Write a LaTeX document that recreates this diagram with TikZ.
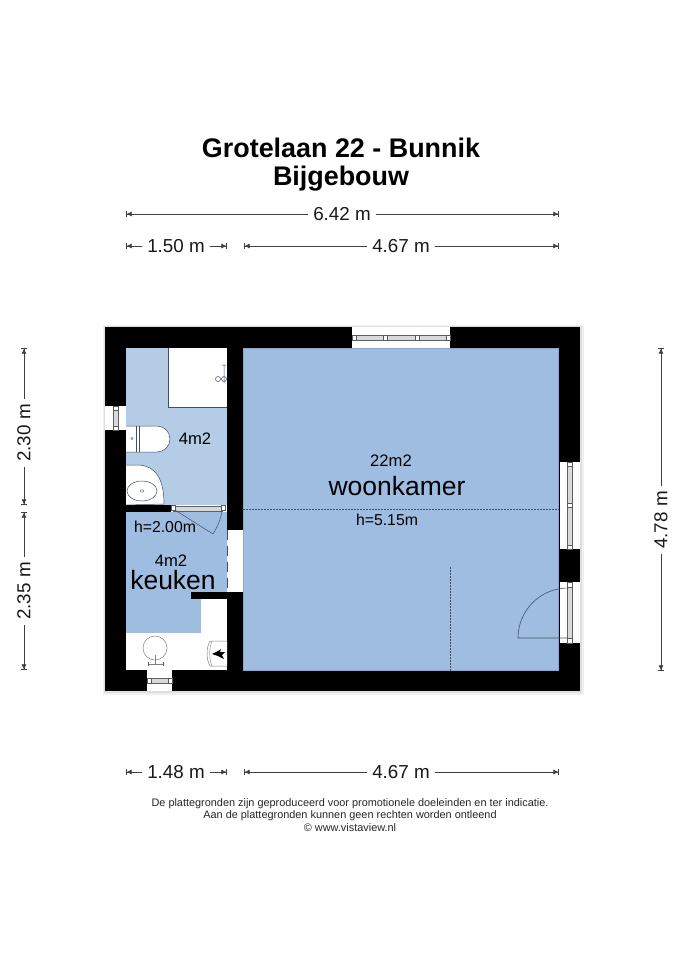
\documentclass[tikz,border=0pt]{standalone}
\usepackage{fontspec}
\setmainfont{Liberation Sans}
\usetikzlibrary{positioning}
\usetikzlibrary{arrows.meta}
\definecolor{wallcol}{HTML}{000000}
\definecolor{bathcol}{HTML}{B4CCE6}
\definecolor{roomcol}{HTML}{9FBDE0}
\definecolor{roomedge}{HTML}{8AA6C8}
\definecolor{planline}{HTML}{3F4F66}
\tikzset{>=latex}
\tikzset{
  dimline/.style={-{Latex[length=5pt,width=5pt]Bar[width=6pt,line width=0.6pt]},black!75,line width=0.6pt,shorten <=0pt},
  dimlabel/.style={font=\fontsize{18.8}{18.8}\selectfont,inner xsep=5pt,inner ysep=0pt,text=black!90},
  dimside/.style={dimlabel,rotate=90},
  roomlabel/.style={text=black,inner sep=0pt},
  arealabel/.style={roomlabel,font=\fontsize{16.6}{16.6}\selectfont},
  heightlabel/.style={roomlabel,font=\fontsize{15.8}{15.8}\selectfont},
  fixture/.style={fill=white,draw=planline,line width=0.5pt},
  opening/.style={fill=white,draw=none},
  glass/.style={fill=gray!30,draw=gray!75!black,line width=0.4pt},
  post/.style={fill=white,draw=gray!70!black,line width=0.5pt},
  dotline/.style={planline,line width=0.5pt,dash pattern=on 1.5pt off 1.5pt},
}
\begin{document}
\begin{tikzpicture}[x=1pt,y=-1pt]
\useasboundingbox[fill=white] (0,0) rectangle (685,969);

% Title
\node[roomlabel,font=\bfseries\fontsize{26.9}{26.9}\selectfont] (title) at (341,148) {Grotelaan 22 - Bunnik};
\node[roomlabel,font=\bfseries\fontsize{26.9}{26.9}\selectfont] (subtitle) at (341,179) {Bijgebouw};

% Outer shell
\fill[gray!12] (103,325) rectangle (584,695);
\fill[gray!25] (104,326) rectangle (582,693);
\fill[wallcol] (105,327) rectangle (580,691);

% Rooms
\fill[bathcol] (126,348) rectangle (227,505);
\fill[roomcol] (126,512) rectangle (227,633);
\fill[roomcol] (243,348) rectangle (559,671);
\draw[roomedge,line width=1pt] (243.5,671) -- (243.5,348.5) -- (559,348.5);
\draw[roomedge,line width=1pt] (243.5,670.5) -- (558.5,670.5) -- (558.5,348.5);
\fill[white] (126,633) rectangle (227,670);
\fill[white] (201,599) rectangle (227,670);
\fill[wallcol] (191,592) rectangle (227,599);

% Shower corner
\fill[white] (168,348) rectangle (227,407);
\draw[planline,line width=0.4pt] (168,348) -- (168,407) -- (227,407);
\draw[planline,line width=0.5pt] (224,365) -- (224,383) (222,365) -- (226,365) (218,379) circle (2.5pt) (224,379) circle (2.5pt);

% Toilet
\draw[fixture] (126,426) -- (157,426) arc (-90:90:13) -- (126,452);
\draw[planline,line width=0.4pt] (139,426) -- (139,452) (136,426) -- (136,452);
\draw[planline,line width=0.4pt] (132,438.5) circle (1.2pt);

% Bath sink
\draw[fixture] (126,465) -- (139,465) .. controls (155,466) and (164,478) .. (164,504) -- (126,505);
\draw[planline,fill=white,line width=0.5pt] (142,491) ellipse (15 and 10);
\draw[planline,line width=0.4pt] (142,491) ellipse (2 and 1.2);

% Kitchen sink
\draw[gray,line width=0.5pt] (155,648) circle (12);
\draw[gray,line width=0.8pt] (155,655) -- (155,664) (148,664) -- (163,664);
\draw[gray!70!black,line width=1pt] (148,662) -- (148,666) (163,662) -- (163,666);

% Stove
\draw[fixture,draw=gray] (227,641) -- (210,641) .. controls (206,648) and (206,659) .. (210,666) -- (227,666);
\draw[gray,line width=0.4pt] (212,641) .. controls (209,648) and (209,659) .. (212,666);
\fill[wallcol] (212,654) -- (218,651) -- (221,649) -- (220,652) -- (225,652) -- (222,655) -- (224,659) -- (218,656) -- cycle;

% Windows
\fill[opening] (105,406) rectangle (126,430);
\fill[glass] (113,410) rectangle (118,426);
\draw[post] (113,406) rectangle (118,410) (113,426) rectangle (118,430);

\fill[opening] (147,670) rectangle (172,691);
\fill[glass] (151,678) rectangle (168,683);
\draw[post] (147,678) rectangle (151,683) (168,678) rectangle (172,683);

\fill[opening] (352,327) rectangle (450,348);
\draw[glass] (355,335) rectangle (447,340);
\foreach \px in {352,383,415,446}
  \draw[post] (\px,335) rectangle ++(4,5);

\fill[opening] (560,462) rectangle (580,549);
\draw[glass] (567,464) rectangle (572,547);
\foreach \py in {462,503,545}
  \draw[post] (567,\py) rectangle ++(5,4);

\fill[opening] (560,582) rectangle (580,643);
\draw[glass] (567,584) rectangle (572,641);
\foreach \py in {582,638}
  \draw[post] (567,\py) rectangle ++(5,5);

% Inner doors
\fill[opening] (227,530) rectangle (243,592);
\draw[planline,dash pattern=on 10pt off 6pt,line width=0.6pt] (227.4,530) -- (227.4,592);
\fill[opening] (171,505) rectangle (227,512);
\draw[glass] (173,506) rectangle (222,511);
\draw[post] (171,505.5) rectangle ++(4,5) (221,505.5) rectangle ++(4,5);
\draw[planline,line width=0.5pt] (175,510) -- (213,534) .. controls (218,526) and (221,518) .. (222,511);

% Door to outside
\draw[planline,line width=0.6pt] (568,638) -- (518,638) arc (180:270:50);

% Dotted lines
\draw[dotline] (243,509) -- (559,509);
\draw[dotline] (450,567) -- (450,671);

% Room labels
\node[arealabel] (bath) at (195,439) {4m2};
\node[heightlabel] (hkeuken) at (165,527) {h=2.00m};
\node[arealabel] (kitarea) at (171,561) {4m2};
\node[roomlabel,font=\fontsize{26.5}{26.5}\selectfont] (keuken) at (173,580) {keuken};
\node[arealabel] (woonarea) at (391,461) {22m2};
\node[roomlabel,font=\fontsize{26.5}{26.5}\selectfont] (woonkamer) at (397,486) {woonkamer};
\node[heightlabel] (hwoon) at (387,520) {h=5.15m};

% Dimensions
\coordinate (ta) at (126,214);
\coordinate (tb) at (559,214);
\node[dimlabel] (dtop) at (342,214) {6.42 m};
\draw[dimline] (dtop) -- (ta);
\draw[dimline] (dtop) -- (tb);

\coordinate (sa) at (126,246);
\coordinate (sb) at (227,246);
\node[dimlabel] (dsmall) at (176,246) {1.50 m};
\draw[dimline] (dsmall) -- (sa);
\draw[dimline] (dsmall) -- (sb);

\coordinate (wa) at (244,246);
\coordinate (wb) at (559,246);
\node[dimlabel] (dwide) at (401,246) {4.67 m};
\draw[dimline] (dwide) -- (wa);
\draw[dimline] (dwide) -- (wb);

\coordinate (la) at (24,348);
\coordinate (lb) at (24,505);
\node[dimside] (dupper) at (24,433) {2.30 m};
\draw[dimline] (dupper) -- (la);
\draw[dimline] (dupper) -- (lb);

\coordinate (lc) at (24,512);
\coordinate (ld) at (24,670);
\node[dimside] (dlower) at (24,591) {2.35 m};
\draw[dimline] (dlower) -- (lc);
\draw[dimline] (dlower) -- (ld);

\coordinate (ra) at (661,348);
\coordinate (rb) at (661,671);
\node[dimside] (dright) at (661,520) {4.78 m};
\draw[dimline] (dright) -- (ra);
\draw[dimline] (dright) -- (rb);

\coordinate (ba) at (126,772);
\coordinate (bb) at (227,772);
\node[dimlabel] (dbotl) at (176,772) {1.48 m};
\draw[dimline] (dbotl) -- (ba);
\draw[dimline] (dbotl) -- (bb);

\coordinate (bc) at (244,772);
\coordinate (bd) at (559,772);
\node[dimlabel] (dbotr) at (401,772) {4.67 m};
\draw[dimline] (dbotr) -- (bc);
\draw[dimline] (dbotr) -- (bd);

% Footer
\node[roomlabel,font=\fontsize{10.9}{12.2}\selectfont,align=center,text=black!85] (footer) at (350,815) {De plattegronden zijn geproduceerd voor promotionele doeleinden en ter indicatie.\\Aan de plattegronden kunnen geen rechten worden ontleend\\© www.vistaview.nl};

\end{tikzpicture}
\end{document}
